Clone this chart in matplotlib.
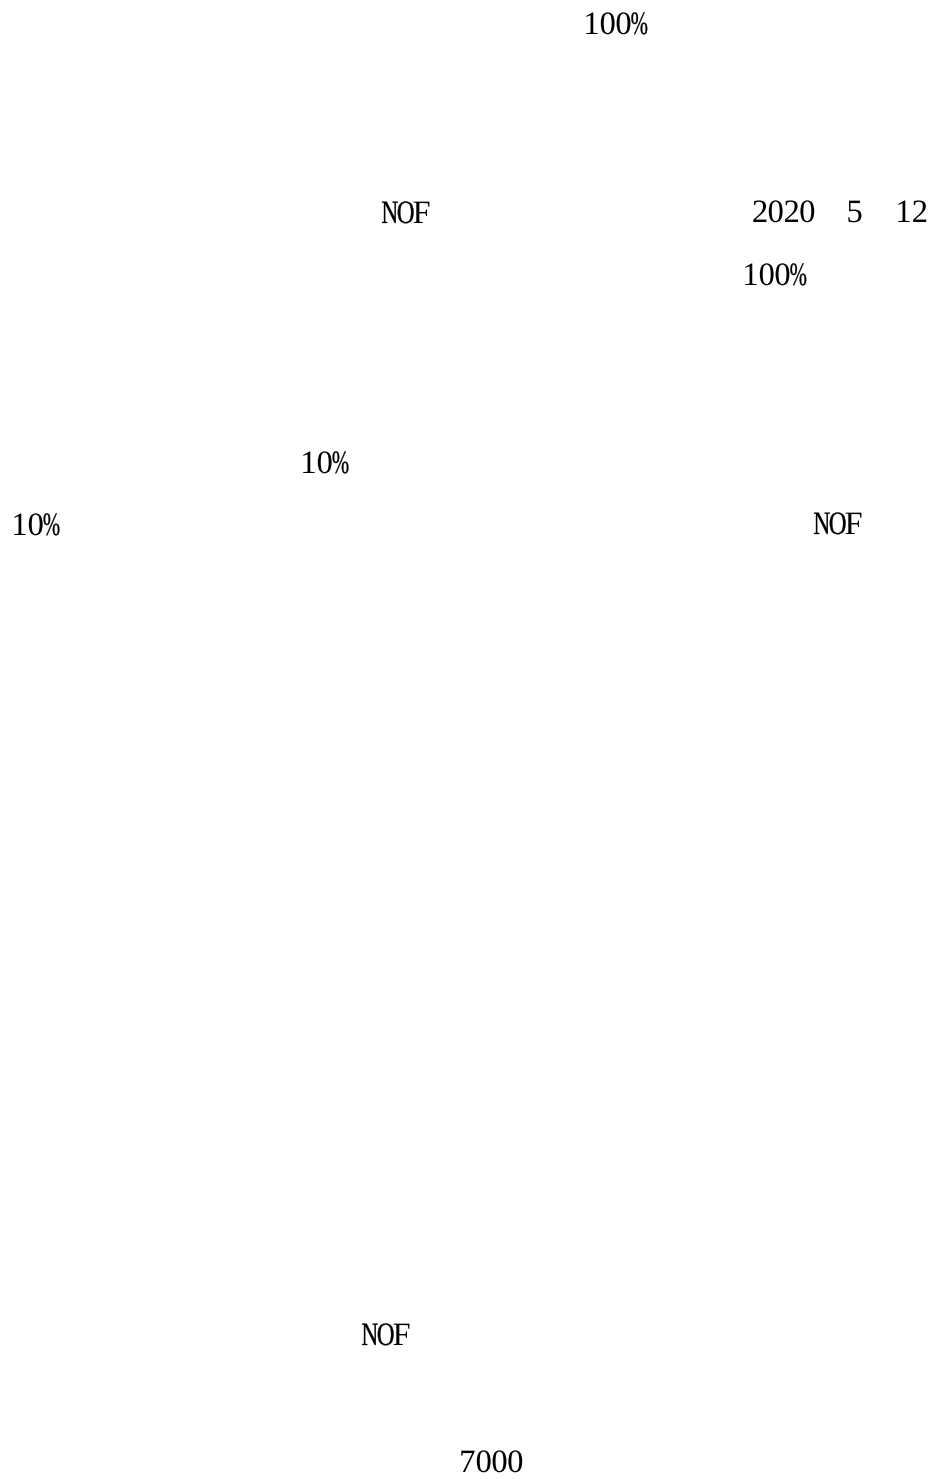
import matplotlib.pyplot as plt
from matplotlib.textpath import TextPath
from matplotlib.patches import PathPatch
from matplotlib.font_manager import FontProperties
from matplotlib.transforms import Affine2D

# text fragments left on the page
labels = ["100%", "NOF", "2020", "5", "12", "100%", "10%", "10%", "NOF", "NOF", "7000"]
# left edge and baseline of each fragment, in pixels from the top-left corner
xs = [584, 382, 752, 847, 896, 743, 301, 12, 814, 362, 460]
baselines = [34, 223, 222, 222, 222, 285, 473, 535, 534, 1345, 1472]

W, H = 934, 1479
CELL = 15.8     # half-width character cell
CAP = 22.0      # digit height
MAXINK = 15.8   # widest glyph ink

fig = plt.figure(figsize=(W / 100, H / 100), dpi=100)
ax = fig.add_axes([0, 0, 1, 1])
ax.set_xlim(0, W)
ax.set_ylim(H, 0)
ax.axis('off')

fp = FontProperties(family='Liberation Serif')
ref = TextPath((0, 0), '0', size=1, prop=fp).get_extents()
sy = CAP / ref.height

# draw each character squeezed into a fixed-width cell, like a CJK font's latin glyphs
for lab, x, base in zip(labels, xs, baselines):
    for i, c in enumerate(lab):
        if c == ' ':
            continue
        tp = TextPath((0, 0), c, size=1, prop=fp)
        ext = tp.get_extents()
        sx = min(sy, MAXINK / ext.width)
        x0 = x + i * CELL + (CELL - ext.width * sx) / 2
        tr = Affine2D().translate(-ext.x0, 0).scale(sx, -sy).translate(x0, base)
        # squeezed glyphs lose stem weight, give them a thin outline back
        lw = 0.2 if sx < sy * 0.9 else 0
        ax.add_patch(PathPatch(tr.transform_path(tp), facecolor='black',
                               edgecolor='black', lw=lw))

fig.savefig('out.png', dpi=100, facecolor='white')
